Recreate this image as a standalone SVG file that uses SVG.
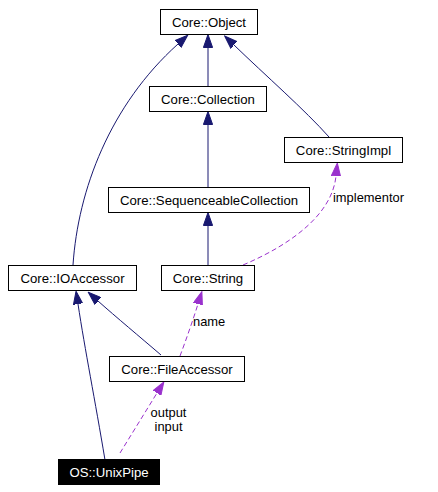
<svg xmlns="http://www.w3.org/2000/svg" width="438" height="492" viewBox="0 0 438 492">
<style>
.box{fill:#ffffff;stroke:#000000;stroke-width:1}
.cur{fill:#000000;stroke:#000000;stroke-width:1}
.t{font-family:"Liberation Sans",Arial,sans-serif;font-size:13.2px;fill:#000000;text-anchor:middle}
.tw{fill:#ffffff}
.lbl{font-family:"Liberation Sans",Arial,sans-serif;font-size:12.9px;fill:#000000}
.inh{fill:none;stroke:#191970;stroke-width:1;marker-end:url(#ab)}
.use{fill:none;stroke:#9a32cd;stroke-width:1;stroke-dasharray:5,3;marker-end:url(#ap)}
</style>
<defs>
<marker id="ab" markerUnits="userSpaceOnUse" markerWidth="14" markerHeight="10" viewBox="0 -5 14 10" refX="0" refY="0" orient="auto">
<path d="M0,-4.6 L13,0 L0,4.6 z" fill="#191970" stroke="#191970" stroke-width="1"/>
</marker>
<marker id="ap" markerUnits="userSpaceOnUse" markerWidth="14" markerHeight="10" viewBox="0 -5 14 10" refX="0" refY="0" orient="auto">
<path d="M0,-4.6 L13,0 L0,4.6 z" fill="#9a32cd" stroke="#9a32cd" stroke-width="1"/>
</marker>
</defs>
<rect width="438" height="492" fill="#ffffff"/>
<g id="edges">
<path class="inh" d="M208,86 L208,47.5"/>
<path class="inh" d="M208,187 L208,124.5"/>
<path class="inh" d="M208,265 L208,225.5"/>
<path class="inh" d="M329,137 C305,110 265,75 234,45"/>
<path class="inh" d="M73,265 C78,190 110,105 178,44"/>
<path class="inh" d="M161,355 C140,337 116,317 98,301"/>
<path class="inh" d="M105,460 C95,400 85,350 78,304"/>
<path class="use" d="M180,356 C186,340 193,320 198,304"/>
<path class="use" d="M120,453 L157,393"/>
<path class="use" d="M243,265 C290,245 332,215 336,176"/>
<text class="lbl" x="333" y="202">implementor</text>
<text class="lbl" x="193" y="326">name</text>
<text class="lbl" x="168.5" y="416.5" text-anchor="middle">output</text>
<text class="lbl" x="168.5" y="430.5" text-anchor="middle">input</text>
</g>
<g id="Object"><rect class="box" x="160.5" y="9.5" width="97" height="25"/><text class="t" x="209" y="26.5">Core::Object</text></g>
<g id="Collection"><rect class="box" x="149.5" y="86.5" width="117" height="25"/><text class="t" x="208" y="103.5">Core::Collection</text></g>
<g id="StringImpl"><rect class="box" x="284.5" y="137.5" width="118" height="25"/><text class="t" x="343.5" y="154.5">Core::StringImpl</text></g>
<g id="SequenceableCollection"><rect class="box" x="108.5" y="187.5" width="201" height="25"/><text class="t" x="209" y="204.5">Core::SequenceableCollection</text></g>
<g id="IOAccessor"><rect class="box" x="8.5" y="265.5" width="128" height="25"/><text class="t" x="72.5" y="282.5">Core::IOAccessor</text></g>
<g id="String"><rect class="box" x="161.5" y="265.5" width="93" height="25"/><text class="t" x="208" y="282.5">Core::String</text></g>
<g id="FileAccessor"><rect class="box" x="109.5" y="356.5" width="135" height="25"/><text class="t" x="177" y="373.5">Core::FileAccessor</text></g>
<g id="UnixPipe"><rect class="cur" x="58.5" y="459.5" width="101" height="25"/><text class="t tw" x="109" y="476.5">OS::UnixPipe</text></g>
</svg>
